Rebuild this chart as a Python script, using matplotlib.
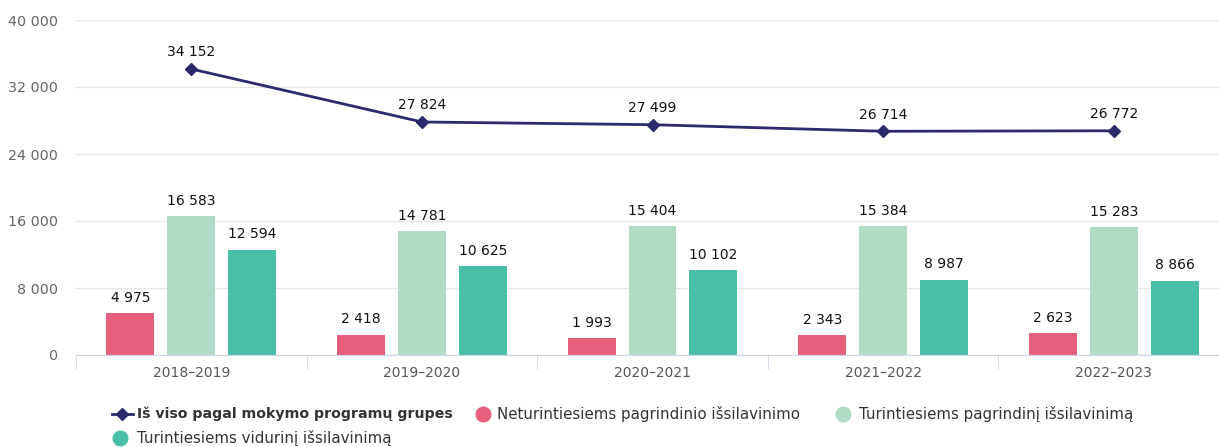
import numpy as np
import matplotlib.pyplot as plt
from matplotlib.lines import Line2D

plt.rcParams['font.family'] = ['DejaVu Sans']

years = ['2018–2019', '2019–2020', '2020–2021', '2021–2022', '2022–2023']
total = [34152, 27824, 27499, 26714, 26772]
be_pagrindinio = [4975, 2418, 1993, 2343, 2623]
su_pagrindiniu = [16583, 14781, 15404, 15384, 15283]
su_viduriniu = [12594, 10625, 10102, 8987, 8866]

names = ['Iš viso pagal mokymo programų grupes',
         'Neturintiesiems pagrindinio išsilavinimo',
         'Turintiesiems pagrindinį išsilavinimą',
         'Turintiesiems vidurinį išsilavinimą']

c_line = '#2b2a6c'
c_red = '#e6607e'
c_light = '#b2dbc6'
c_teal = '#4bbea8'

W, H = 1219, 447
fig = plt.figure(figsize=(W / 100, H / 100), dpi=100)
ax = fig.add_axes([76 / W, 1 - 355 / H, (1229 - 76) / W, 335 / H])

def fmt(v):
    return f'{v:,}'.replace(',', ' ')

x = np.arange(len(years))
bw = 0.208
step = 0.264
for off, vals, col in [(-step, be_pagrindinio, c_red),
                       (0, su_pagrindiniu, c_light),
                       (step, su_viduriniu, c_teal)]:
    bars = ax.bar(x + off, vals, width=bw, color=col, zorder=2)
    for b, v in zip(bars, vals):
        ax.annotate(fmt(v), (b.get_x() + b.get_width() / 2, v),
                    xytext=(0, 6), textcoords='offset points',
                    ha='center', va='bottom', fontsize=10, color='#111')

ax.plot(x, total, color=c_line, lw=2, marker='D', ms=6, zorder=3)
for xi, v in zip(x, total):
    ax.annotate(fmt(v), (xi, v), xytext=(0, 7), textcoords='offset points',
                ha='center', va='bottom', fontsize=10, color='#111')

ax.set_xlim(-0.5, len(years) - 0.5)
ax.set_ylim(0, 40000)
ax.set_yticks(range(0, 40001, 8000))
ax.set_yticklabels([fmt(v) for v in range(0, 40001, 8000)])
ax.set_xticks(x)
ax.set_xticklabels(years)
ax.set_xticks(np.arange(-0.5, len(years)), minor=True)
ax.tick_params(axis='x', which='major', length=0, pad=8, labelsize=10, labelcolor='#555')
ax.tick_params(axis='x', which='minor', length=10, color='#ccd6eb')
ax.tick_params(axis='y', length=0, pad=13, labelsize=10.3, labelcolor='#666')
ax.grid(axis='y', color='#e6e6e6', lw=1, zorder=0)
for s in ['top', 'right', 'left']:
    ax.spines[s].set_visible(False)
ax.spines['bottom'].set_color('#ccd6eb')

# legend laid out by hand in two rows
def px(xp, yp):
    return xp / W, 1 - yp / H

y1, y2 = 414, 438
fs = 10.8
fig.add_artist(Line2D([112 / W, 133 / W], [px(0, y1)[1]] * 2, color=c_line, lw=2))
fig.add_artist(Line2D([122 / W], [px(0, y1)[1]], color=c_line, marker='D', ms=6))
fig.text(*px(137, y1), names[0], fontsize=10.2, fontweight='bold', color='#333', va='center')
fig.add_artist(Line2D([483 / W], [px(0, y1)[1]], color=c_red, marker='o', ms=10.5, lw=0))
fig.text(*px(497, y1), names[1], fontsize=fs, color='#333', va='center')
fig.add_artist(Line2D([843 / W], [px(0, y1)[1]], color=c_light, marker='o', ms=10.5, lw=0))
fig.text(*px(859, y1), names[2], fontsize=fs, color='#333', va='center')
fig.add_artist(Line2D([120 / W], [px(0, y2)[1]], color=c_teal, marker='o', ms=10.5, lw=0))
fig.text(*px(137, y2), names[3], fontsize=fs, color='#333', va='center')

fig.savefig('out.png', dpi=100)
